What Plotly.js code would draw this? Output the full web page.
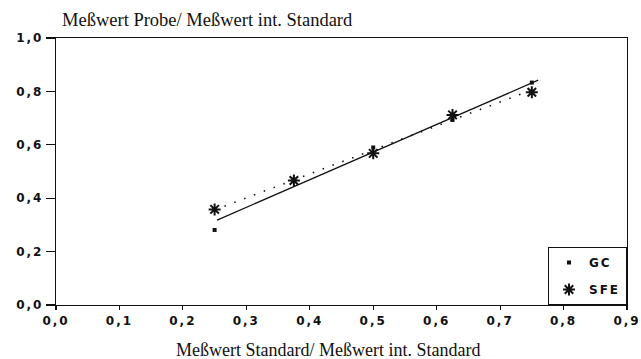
<!DOCTYPE html>
<html>
<head>
<meta charset="utf-8">
<script src="https://cdn.plot.ly/plotly-3.0.1.min.js"></script>
<style>
html, body { margin: 0; padding: 0; background: #fff; }
#chart { width: 641px; height: 359px; }
.xtick text, .ytick text, .legendtext { letter-spacing: 2px; }
</style>
</head>
<body>
<div id="chart"></div>
<script>
// Data
const xStd = [0.25, 0.375, 0.5, 0.625, 0.75];
const gcVals = [0.281, 0.47, 0.59, 0.693, 0.833];
const sfeVals = [0.358, 0.466, 0.568, 0.712, 0.797];
// Regression line endpoints
const gcFitX = [0.254, 0.76];
const gcFitY = [0.318, 0.842];
const sfeFitX = [0.25, 0.755];
const sfeFitY = [0.356, 0.81];
const xTicks = [0, 0.1, 0.2, 0.3, 0.4, 0.5, 0.6, 0.7, 0.8, 0.9];
const xTickText = ['0,0', '0,1', '0,2', '0,3', '0,4', '0,5', '0,6', '0,7', '0,8', '0,9'];
const yTicks = [0, 0.2, 0.4, 0.6, 0.8, 1.0];
const yTickText = ['0,0', '0,2', '0,4', '0,6', '0,8', '1,0'];
const xTitle = 'Meßwert Standard/ Meßwert int. Standard';
const yTitle = 'Meßwert Probe/ Meßwert int. Standard';

const traces = [
  { x: gcFitX, y: gcFitY, mode: 'lines', line: { color: '#111', width: 1.3 }, showlegend: false, hoverinfo: 'skip' },
  { x: sfeFitX, y: sfeFitY, mode: 'lines', line: { color: '#111', width: 1.6, dash: '1.5px,9px' }, showlegend: false, hoverinfo: 'skip' },
  { x: xStd, y: gcVals, name: 'GC', legendgroup: 'gc', mode: 'markers', marker: { symbol: 'square', size: 4, color: '#111' } },
  { x: xStd, y: sfeVals, name: 'SFE', legendgroup: 'sfe', mode: 'markers', marker: { symbol: 'asterisk-open', size: 10, color: '#111', line: { color: '#111', width: 2 } } }
];

const tickFont = { family: 'DejaVu Sans', size: 12, color: '#111', weight: 'bold' };
const serif = { family: 'Liberation Serif', size: 18, color: '#111' };

const layout = {
  width: 641, height: 359,
  margin: { l: 56, r: 14, t: 38, b: 54 },
  paper_bgcolor: '#fff', plot_bgcolor: '#fff',
  showlegend: true,
  title: { text: yTitle, font: Object.assign({}, serif, { size: 18.5 }), x: 62 / 641, xref: 'container', xanchor: 'left', y: 1 - 20 / 359, yref: 'container', yanchor: 'middle' },
  xaxis: {
    range: [0, 0.9], tickvals: xTicks, ticktext: xTickText,
    showgrid: false, zeroline: false, showline: true, linecolor: '#111', linewidth: 1.2, mirror: true,
    ticks: 'outside', ticklen: 4, tickcolor: '#111', tickwidth: 1.2, tickfont: tickFont
  },
  yaxis: {
    range: [0, 1.0], tickvals: yTicks, ticktext: yTickText,
    showgrid: false, zeroline: false, showline: true, linecolor: '#111', linewidth: 1.2, mirror: true,
    ticks: 'outside', ticklen: 9, tickcolor: '#111', tickwidth: 1.2, tickfont: tickFont
  },
  annotations: [
    { text: xTitle, xref: 'paper', yref: 'paper', x: (327.5 - 56) / 571, y: 0, xanchor: 'center', yanchor: 'middle', yshift: -45, showarrow: false, font: serif }
  ],
  legend: {
    x: 1, xanchor: 'right', y: 0, yanchor: 'bottom',
    bgcolor: '#fff', bordercolor: '#111', borderwidth: 1,
    font: { family: 'DejaVu Sans', size: 12, color: '#111', weight: 'bold' },
    itemsizing: 'trace', tracegroupgap: 8, itemwidth: 30
  }
};

Plotly.newPlot('chart', traces, layout, { displayModeBar: false, staticPlot: true });
</script>
</body>
</html>
